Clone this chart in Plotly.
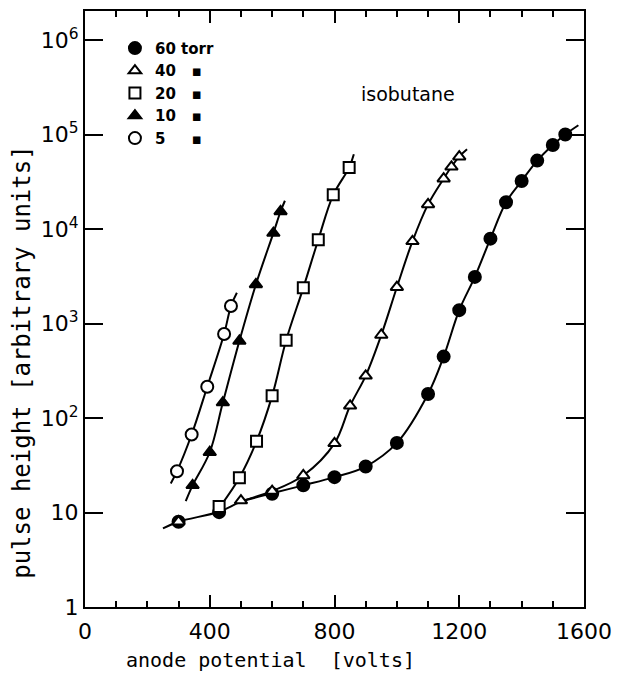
import plotly.graph_objects as go

# ---- data (volts, pulse height) ----
v60 = [300, 430, 600, 700, 800, 900, 1000, 1100, 1150, 1200, 1250, 1300, 1350, 1400, 1450, 1500, 1540]
h60 = [8.0, 10.1, 15.8, 19.4, 23.7, 30.7, 54.6, 180, 448, 1390, 3125, 7940, 19300, 32400, 53200, 77900, 100700]

v40 = [300, 500, 600, 700, 800, 850, 900, 950, 1000, 1050, 1100, 1150, 1175, 1200]
h40 = [8.0, 13.4, 16.9, 24.7, 54, 135, 280, 758, 2430, 7430, 18300, 34300, 45800, 58600]

v20 = [430, 495, 550, 600, 645, 700, 748, 796, 847]
h20 = [11.6, 23.4, 56.8, 172, 667, 2393, 7740, 23100, 44900]

v10 = [345, 400, 442, 495, 548, 604, 627]
h10 = [19.4, 43.5, 146, 655, 2600, 9100, 15400]

v5 = [295, 342, 392, 446, 468]
h5 = [27.4, 67, 215, 777, 1535]

# curve knots (fitted curves as drawn)
c60_v = [250, 300, 430, 500, 600, 700, 800, 900, 1000, 1100, 1150, 1200, 1250, 1300, 1350, 1400, 1450, 1500, 1540, 1582]
c60_h = [6.8, 8.0, 10.2, 13.0, 16.0, 19.4, 23.7, 30.7, 54.6, 180, 448, 1390, 3125, 7940, 19300, 32400, 53200, 77900, 100700, 126000]
c40_v = [500, 600, 700, 800, 850, 900, 950, 1000, 1050, 1100, 1150, 1175, 1200, 1225]
c40_h = [13.2, 16.9, 24.7, 54, 135, 280, 758, 2430, 7430, 18300, 34300, 45800, 58600, 70000]
c20_v = [435, 495, 550, 600, 645, 700, 748, 796, 847, 862]
c20_h = [11.8, 23.4, 56.8, 172, 667, 2393, 7740, 23100, 44900, 62000]
c10_v = [323, 345, 400, 442, 495, 548, 604, 627, 641]
c10_h = [13.2, 19.4, 43.5, 146, 655, 2600, 9100, 15400, 20000]
c5_v = [275, 295, 342, 392, 446, 468, 487]
c5_h = [20.3, 27.4, 67, 215, 777, 1535, 2120]

NB = "\u00a0"
DITTO = "\u25aa"
legend_names = ["60 torr", "40" + NB * 3 + DITTO, "20" + NB * 3 + DITTO,
                "10" + NB * 3 + DITTO, "5" + NB * 5 + DITTO]
x_ticks = [0, 400, 800, 1200, 1600]
y_ticks = [1, 10, 100, 1000, 10000, 100000, 1000000]
y_ticktext = ["1", "10", "10<sup>2</sup>", "10<sup>3</sup>", "10<sup>4</sup>", "10<sup>5</sup>", "10<sup>6</sup>"]

series = [
    (v60, h60, c60_v, c60_h, "circle", "black", legend_names[0]),
    (v40, h40, c40_v, c40_h, "triangle-up", "white", legend_names[1]),
    (v20, h20, c20_v, c20_h, "square", "white", legend_names[2]),
    (v10, h10, c10_v, c10_h, "triangle-up", "black", legend_names[3]),
    (v5, h5, c5_v, c5_h, "circle", "white", legend_names[4]),
]

fig = go.Figure()
for v, h, cv, ch, sym, fill, name in series:
    fig.add_trace(go.Scatter(x=cv, y=ch, mode="lines", line=dict(color="black", width=2, shape="spline"),
                             showlegend=False, hoverinfo="skip"))
for i, (v, h, cv, ch, sym, fill, name) in enumerate(series):
    fig.add_trace(go.Scatter(x=v, y=h, mode="markers", name=name,
                             marker=dict(symbol=sym, size=11 if sym != "circle" else 12, color=fill,
                                         line=dict(color="black", width=2))))

TITLE_FONT = "DejaVu Sans Mono"
# page has an 8px body margin: figure is shrunk by 8px and margins shifted accordingly
fig.update_layout(
    width=612, height=667,
    margin=dict(l=77, r=36, t=1, b=68),
    plot_bgcolor="white", paper_bgcolor="white",
    font=dict(family="DejaVu Sans", color="black"),
    showlegend=True,
    legend=dict(x=0.06, y=0.965, xanchor="left", yanchor="top", bgcolor="rgba(0,0,0,0)",
                font=dict(size=15, family="DejaVu Sans", color="black", weight="bold"),
                itemwidth=30, traceorder="normal"),
    xaxis=dict(range=[0, 1600], tickvals=x_ticks, ticks="inside", ticklen=12, tickwidth=1.5,
               minor=dict(dtick=100, ticks="inside", ticklen=6, tickwidth=1.5, tickcolor="black"),
               showline=True, linewidth=2, linecolor="black", mirror="ticks", showgrid=False,
               zeroline=False, tickfont=dict(size=22), tickcolor="black", ticklabelstandoff=4),
    yaxis=dict(type="log", range=[0, 6.31], tickvals=y_ticks, ticktext=y_ticktext,
               ticks="inside", ticklen=18, tickwidth=1.5, tickcolor="black",
               showline=True, linewidth=2, linecolor="black", mirror="ticks", showgrid=False,
               zeroline=False, tickfont=dict(size=22)),
    annotations=[
        dict(text="isobutane", x=(408 - 85) / 499, y=(607 - 92) / 598, xref="paper", yref="paper", showarrow=False,
             font=dict(size=19), xanchor="center", yanchor="middle"),
        dict(text="anode potential" + NB * 2 + "[volts]", x=(270 - 85) / 499, y=(607 - 660) / 598,
             xref="paper", yref="paper",
             showarrow=False, font=dict(size=20, family=TITLE_FONT), xanchor="center", yanchor="middle"),
        dict(text="pulse height [arbitrary units]", x=(22 - 85) / 499, y=(607 - 362) / 598, xref="paper", yref="paper",
             showarrow=False, font=dict(size=24, family=TITLE_FONT), textangle=-90, xanchor="center", yanchor="middle"),
    ],
)
fig.write_html("out.html")
